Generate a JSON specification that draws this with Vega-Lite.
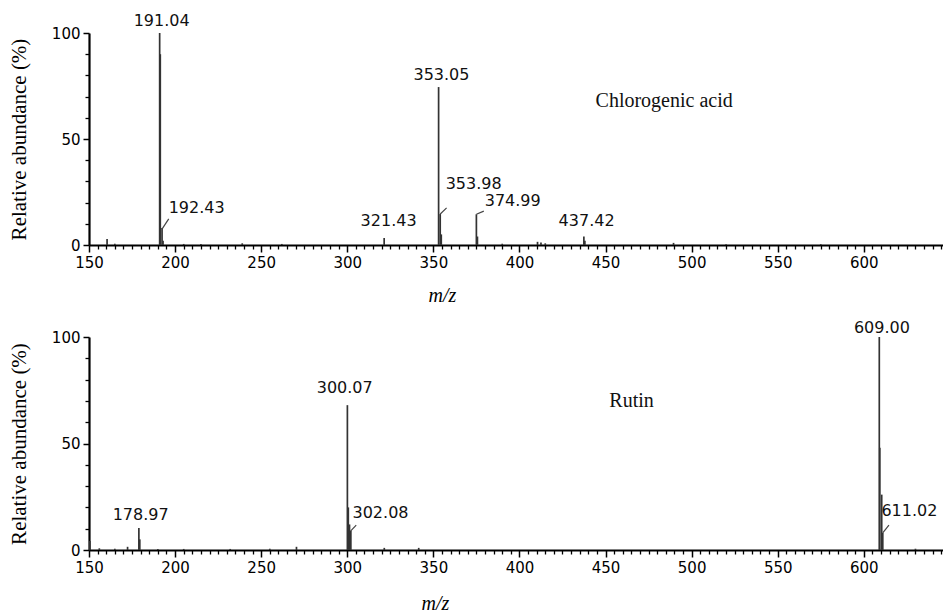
{
  "$schema": "https://vega.github.io/schema/vega-lite/v6.json",
  "padding": {"left": 8, "top": 12, "right": 0, "bottom": 0},
  "background": "white",
  "spacing": 15,
  "config": {
    "view": {"stroke": null},
    "axis": {"grid": false, "domainColor": "black", "tickColor": "black", "labelColor": "black", "titleColor": "black"},
    "axisY": {"titleFont": "Liberation Serif", "titleFontSize": 21, "titleFontWeight": "normal"},
    "axisX": {"titleFont": "Liberation Serif", "titleFontSize": 20, "titleFontWeight": "normal", "titleFontStyle": "italic"}
  },
  "datasets": {
    "peaks": [
      {"panel": "chl", "mz": 160.5, "intensity": 2.8},
      {"panel": "chl", "mz": 165, "intensity": 0.6},
      {"panel": "chl", "mz": 191.04, "intensity": 100},
      {"panel": "chl", "mz": 191.4, "intensity": 90},
      {"panel": "chl", "mz": 192.43, "intensity": 8},
      {"panel": "chl", "mz": 193, "intensity": 2},
      {"panel": "chl", "mz": 205, "intensity": 0.5},
      {"panel": "chl", "mz": 215, "intensity": 0.5},
      {"panel": "chl", "mz": 239, "intensity": 0.8},
      {"panel": "chl", "mz": 262, "intensity": 0.5},
      {"panel": "chl", "mz": 321.43, "intensity": 3.3},
      {"panel": "chl", "mz": 353.05, "intensity": 74.5},
      {"panel": "chl", "mz": 353.98, "intensity": 14.6},
      {"panel": "chl", "mz": 354.6, "intensity": 5},
      {"panel": "chl", "mz": 374.99, "intensity": 14.5},
      {"panel": "chl", "mz": 375.6, "intensity": 4},
      {"panel": "chl", "mz": 390, "intensity": 0.6},
      {"panel": "chl", "mz": 410.5, "intensity": 1.5},
      {"panel": "chl", "mz": 412.5, "intensity": 1.2},
      {"panel": "chl", "mz": 415, "intensity": 0.8},
      {"panel": "chl", "mz": 437.42, "intensity": 4},
      {"panel": "chl", "mz": 438, "intensity": 2},
      {"panel": "chl", "mz": 489.5, "intensity": 1},
      {"panel": "chl", "mz": 520, "intensity": 0.4},
      {"panel": "chl", "mz": 575, "intensity": 0.4},
      {"panel": "rut", "mz": 150.5, "intensity": 4.2},
      {"panel": "rut", "mz": 156, "intensity": 0.8},
      {"panel": "rut", "mz": 165, "intensity": 0.6},
      {"panel": "rut", "mz": 172.4, "intensity": 1.5},
      {"panel": "rut", "mz": 178.97, "intensity": 10.3},
      {"panel": "rut", "mz": 179.5, "intensity": 5},
      {"panel": "rut", "mz": 190, "intensity": 0.5},
      {"panel": "rut", "mz": 205, "intensity": 0.5},
      {"panel": "rut", "mz": 232, "intensity": 0.5},
      {"panel": "rut", "mz": 255, "intensity": 0.6},
      {"panel": "rut", "mz": 270.5, "intensity": 1.5},
      {"panel": "rut", "mz": 300.07, "intensity": 68},
      {"panel": "rut", "mz": 300.6, "intensity": 20},
      {"panel": "rut", "mz": 301.3, "intensity": 12},
      {"panel": "rut", "mz": 302.08, "intensity": 9},
      {"panel": "rut", "mz": 321.5, "intensity": 1},
      {"panel": "rut", "mz": 341.5, "intensity": 1},
      {"panel": "rut", "mz": 609.0, "intensity": 100},
      {"panel": "rut", "mz": 609.3, "intensity": 48},
      {"panel": "rut", "mz": 610.4, "intensity": 26},
      {"panel": "rut", "mz": 611.02, "intensity": 8},
      {"panel": "rut", "mz": 630, "intensity": 0.6}
    ],
    "labels": [
      {"panel": "chl", "mz": 192.2, "intensity": 105.7, "text": "191.04"},
      {"panel": "chl", "mz": 212.5, "intensity": 17.5, "text": "192.43"},
      {"panel": "chl", "mz": 354.7, "intensity": 80.2, "text": "353.05"},
      {"panel": "chl", "mz": 373.4, "intensity": 28.8, "text": "353.98"},
      {"panel": "chl", "mz": 396.1, "intensity": 20.8, "text": "374.99"},
      {"panel": "chl", "mz": 324.0, "intensity": 11.3, "text": "321.43"},
      {"panel": "chl", "mz": 439.0, "intensity": 11.3, "text": "437.42"},
      {"panel": "rut", "mz": 180.0, "intensity": 16.4, "text": "178.97"},
      {"panel": "rut", "mz": 298.5, "intensity": 76.1, "text": "300.07"},
      {"panel": "rut", "mz": 319.3, "intensity": 17.4, "text": "302.08"},
      {"panel": "rut", "mz": 610.5, "intensity": 104.2, "text": "609.00"},
      {"panel": "rut", "mz": 626.5, "intensity": 18.3, "text": "611.02"}
    ],
    "leaders": [
      {"panel": "chl", "x1": 192.4, "y1": 7.5, "x2": 196.3, "y2": 12.3},
      {"panel": "chl", "x1": 354.0, "y1": 14.6, "x2": 357.7, "y2": 17.5},
      {"panel": "chl", "x1": 375.0, "y1": 14.5, "x2": 379.3, "y2": 16.0},
      {"panel": "rut", "x1": 301.9, "y1": 8.9, "x2": 305.2, "y2": 11.7},
      {"panel": "rut", "x1": 611.0, "y1": 8.0, "x2": 614.6, "y2": 11.7}
    ],
    "names": [
      {"panel": "chl", "mz": 444.2, "intensity": 67.9, "text": "Chlorogenic acid"},
      {"panel": "rut", "mz": 452.2, "intensity": 70.0, "text": "Rutin"}
    ]
  },
  "vconcat": [
    {
      "width": 854,
      "height": 212,
      "resolve": {"axis": {"x": "independent", "y": "independent"}},
      "layer": [
        {
          "data": {"name": "peaks"},
          "transform": [{"filter": "datum.panel === 'chl'"}],
          "mark": {"type": "rule", "color": "#333333", "strokeWidth": 1.7},
          "encoding": {
            "x": {"field": "mz", "type": "quantitative", "scale": {"domain": [150, 646], "nice": false, "zero": false},
              "axis": {"orient": "bottom", "values": [150, 200, 250, 300, 350, 400, 450, 500, 550, 600], "tickSize": 7, "tickWidth": 1.5, "domainWidth": 2.2,
                "labelFont": "DejaVu Sans", "labelFontSize": 15, "labelPadding": 3, "labelFlush": false, "labelOverlap": false,
                "title": "m/z", "titleFont": "Liberation Serif", "titleFontStyle": "italic", "titleFontWeight": "normal", "titleFontSize": 20,
                "titleX": 353, "titleY": 40, "titleAlign": "center", "titleBaseline": "top"}},
            "y": {"field": "intensity", "type": "quantitative", "scale": {"domain": [0, 100], "nice": false},
              "axis": {"orient": "left", "values": [0, 50, 100], "tickSize": 6, "tickWidth": 1.5, "domainWidth": 2.2,
                "labelFont": "DejaVu Sans", "labelFontSize": 15, "labelPadding": 3,
                "title": "Relative abundance (%)", "titleFont": "Liberation Serif", "titleFontWeight": "normal", "titleFontSize": 21, "titlePadding": 22}},
            "y2": {"datum": 0}
          }
        },
        {
          "data": {"name": "peaks"},
          "transform": [{"filter": "datum.panel === 'chl'"}],
          "mark": {"type": "rule", "opacity": 0},
          "encoding": {
            "x": {"field": "mz", "type": "quantitative",
              "axis": {"orient": "bottom", "values": [155,160,165,170,175,180,185,190,195,205,210,215,220,225,230,235,240,245,255,260,265,270,275,280,285,290,295,305,310,315,320,325,330,335,340,345,355,360,365,370,375,380,385,390,395,405,410,415,420,425,430,435,440,445,455,460,465,470,475,480,485,490,495,505,510,515,520,525,530,535,540,545,555,560,565,570,575,580,585,590,595,605,610,615,620,625,630,635,640,645],
                "tickSize": 4, "tickWidth": 1.3, "labels": false, "domain": false, "title": null}},
            "y": {"field": "intensity", "type": "quantitative",
              "axis": {"orient": "left", "values": [10, 20, 30, 40, 60, 70, 80, 90], "tickSize": 4, "tickWidth": 1.3, "labels": false, "domain": false, "title": null}}
          }
        },
        {
          "data": {"name": "leaders"},
          "transform": [{"filter": "datum.panel === 'chl'"}],
          "mark": {"type": "rule", "color": "#444444", "strokeWidth": 1.2},
          "encoding": {
            "x": {"field": "x1", "type": "quantitative", "axis": null},
            "y": {"field": "y1", "type": "quantitative", "axis": null},
            "x2": {"field": "x2"},
            "y2": {"field": "y2"}
          }
        },
        {
          "data": {"name": "labels"},
          "transform": [{"filter": "datum.panel === 'chl'"}],
          "mark": {"type": "text", "font": "DejaVu Sans", "fontSize": 16, "color": "#111111", "align": "center", "baseline": "middle"},
          "encoding": {
            "x": {"field": "mz", "type": "quantitative", "axis": null},
            "y": {"field": "intensity", "type": "quantitative", "axis": null},
            "text": {"field": "text"}
          }
        },
        {
          "data": {"name": "names"},
          "transform": [{"filter": "datum.panel === 'chl'"}],
          "mark": {"type": "text", "font": "Liberation Serif", "fontSize": 20, "color": "#111111", "align": "left", "baseline": "middle"},
          "encoding": {
            "x": {"field": "mz", "type": "quantitative", "axis": null},
            "y": {"field": "intensity", "type": "quantitative", "axis": null},
            "text": {"field": "text"}
          }
        }
      ]
    },
    {
      "width": 854,
      "height": 213,
      "resolve": {"axis": {"x": "independent", "y": "independent"}},
      "layer": [
        {
          "data": {"name": "peaks"},
          "transform": [{"filter": "datum.panel === 'rut'"}],
          "mark": {"type": "rule", "color": "#333333", "strokeWidth": 1.7},
          "encoding": {
            "x": {"field": "mz", "type": "quantitative", "scale": {"domain": [150, 646], "nice": false, "zero": false},
              "axis": {"orient": "bottom", "values": [150, 200, 250, 300, 350, 400, 450, 500, 550, 600], "tickSize": 7, "tickWidth": 1.5, "domainWidth": 2.2,
                "labelFont": "DejaVu Sans", "labelFontSize": 15, "labelPadding": 3, "labelFlush": false, "labelOverlap": false,
                "title": "m/z", "titleFont": "Liberation Serif", "titleFontStyle": "italic", "titleFontWeight": "normal", "titleFontSize": 20,
                "titleX": 346, "titleY": 43, "titleAlign": "center", "titleBaseline": "top"}},
            "y": {"field": "intensity", "type": "quantitative", "scale": {"domain": [0, 100], "nice": false},
              "axis": {"orient": "left", "values": [0, 50, 100], "tickSize": 6, "tickWidth": 1.5, "domainWidth": 2.2,
                "labelFont": "DejaVu Sans", "labelFontSize": 15, "labelPadding": 3,
                "title": "Relative abundance (%)", "titleFont": "Liberation Serif", "titleFontWeight": "normal", "titleFontSize": 21, "titlePadding": 22}},
            "y2": {"datum": 0}
          }
        },
        {
          "data": {"name": "peaks"},
          "transform": [{"filter": "datum.panel === 'rut'"}],
          "mark": {"type": "rule", "opacity": 0},
          "encoding": {
            "x": {"field": "mz", "type": "quantitative",
              "axis": {"orient": "bottom", "values": [155,160,165,170,175,180,185,190,195,205,210,215,220,225,230,235,240,245,255,260,265,270,275,280,285,290,295,305,310,315,320,325,330,335,340,345,355,360,365,370,375,380,385,390,395,405,410,415,420,425,430,435,440,445,455,460,465,470,475,480,485,490,495,505,510,515,520,525,530,535,540,545,555,560,565,570,575,580,585,590,595,605,610,615,620,625,630,635,640,645],
                "tickSize": 4, "tickWidth": 1.3, "labels": false, "domain": false, "title": null}},
            "y": {"field": "intensity", "type": "quantitative",
              "axis": {"orient": "left", "values": [10, 20, 30, 40, 60, 70, 80, 90], "tickSize": 4, "tickWidth": 1.3, "labels": false, "domain": false, "title": null}}
          }
        },
        {
          "data": {"name": "leaders"},
          "transform": [{"filter": "datum.panel === 'rut'"}],
          "mark": {"type": "rule", "color": "#444444", "strokeWidth": 1.2},
          "encoding": {
            "x": {"field": "x1", "type": "quantitative", "axis": null},
            "y": {"field": "y1", "type": "quantitative", "axis": null},
            "x2": {"field": "x2"},
            "y2": {"field": "y2"}
          }
        },
        {
          "data": {"name": "labels"},
          "transform": [{"filter": "datum.panel === 'rut'"}],
          "mark": {"type": "text", "font": "DejaVu Sans", "fontSize": 16, "color": "#111111", "align": "center", "baseline": "middle"},
          "encoding": {
            "x": {"field": "mz", "type": "quantitative", "axis": null},
            "y": {"field": "intensity", "type": "quantitative", "axis": null},
            "text": {"field": "text"}
          }
        },
        {
          "data": {"name": "names"},
          "transform": [{"filter": "datum.panel === 'rut'"}],
          "mark": {"type": "text", "font": "Liberation Serif", "fontSize": 20, "color": "#111111", "align": "left", "baseline": "middle"},
          "encoding": {
            "x": {"field": "mz", "type": "quantitative", "axis": null},
            "y": {"field": "intensity", "type": "quantitative", "axis": null},
            "text": {"field": "text"}
          }
        }
      ]
    }
  ]
}
